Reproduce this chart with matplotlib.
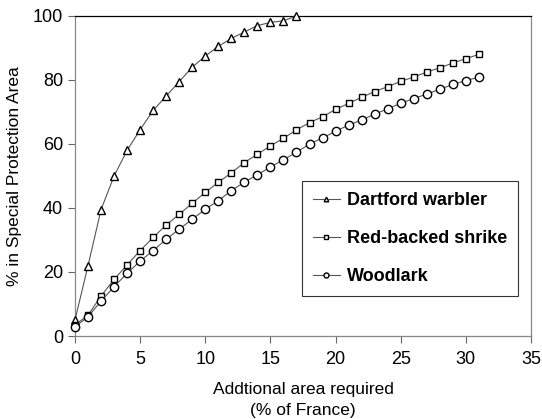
import matplotlib
matplotlib.use("Agg")
import matplotlib.pyplot as plt

plt.rcParams['font.family'] = ['Liberation Sans', 'DejaVu Sans']

dartford_x = list(range(0, 18))
dartford_y = [5, 22, 39.5, 50, 58, 64.5, 70.5, 75, 79.5, 84, 87.5, 90.5, 93, 95, 97, 98, 98.5, 100]

shrike_x = list(range(0, 32))
shrike_y = [3.5, 6.5, 12.5, 17.7, 22.2, 26.7, 30.8, 34.7, 38.0, 41.5, 44.9, 48.0, 51.0, 54.2, 56.8, 59.4,
            61.8, 64.4, 66.7, 68.5, 70.8, 72.7, 74.6, 76.4, 77.9, 79.6, 80.9, 82.5, 83.8, 85.3, 86.7, 88.0]

woodlark_x = list(range(0, 32))
woodlark_y = [2.9, 6.0, 10.9, 15.4, 19.6, 23.4, 26.7, 30.2, 33.4, 36.5, 39.6, 42.3, 45.4, 48.1, 50.4, 52.8,
              55.1, 57.4, 60.0, 61.9, 64.0, 65.9, 67.5, 69.3, 71.0, 72.7, 74.2, 75.6, 77.1, 78.6, 79.8, 80.9]

fig = plt.figure(figsize=(5.42, 4.19), dpi=100)
ax = fig.add_axes([75/542, 1 - 336/419, (531-75)/542, (336-16)/419])

lc = '#555555'
ax.plot(dartford_x, dartford_y, color=lc, lw=0.8, marker='^', ms=5.5, mfc='white', mec='black', mew=1.0,
        label='Dartford warbler', clip_on=False, zorder=3)
ax.plot(shrike_x, shrike_y, color=lc, lw=0.8, marker='s', ms=4.5, mfc='white', mec='black', mew=1.0,
        label='Red-backed shrike', clip_on=False, zorder=3)
ax.plot(woodlark_x, woodlark_y, color=lc, lw=0.8, marker='o', ms=6, mfc='white', mec='black', mew=1.0,
        label='Woodlark', clip_on=False, zorder=3)

ax.set_xlim(0, 35)
ax.set_ylim(0, 100)
ax.set_xticks(range(0, 36, 5))
ax.set_yticks(range(0, 101, 20))
ax.tick_params(labelsize=13, direction='out', length=5, color='#666666', width=0.8)
ax.tick_params(axis='x', pad=6)
for s in ['left', 'bottom', 'right']:
    ax.spines[s].set_color('#888888')
    ax.spines[s].set_linewidth(0.9)
ax.spines['top'].set_color('black')
ax.spines['top'].set_linewidth(0.9)

ax.set_xlabel('Addtional area required\n(% of France)', fontsize=12.5, labelpad=10, linespacing=1.45)
ax.set_ylabel('% in Special Protection Area', fontsize=12.5, labelpad=8)

leg = ax.legend(loc='upper left', bbox_to_anchor=((302-75)/456, (336-181)/320), prop={'weight': 'bold', 'size': 13},
                frameon=True, fancybox=False, edgecolor='black', handlelength=1.5, markerscale=0.6,
                borderpad=0.6, labelspacing=1.18, handletextpad=0.4, borderaxespad=0)
leg.get_frame().set_linewidth(0.8)

fig.savefig('out.png', dpi=100)
